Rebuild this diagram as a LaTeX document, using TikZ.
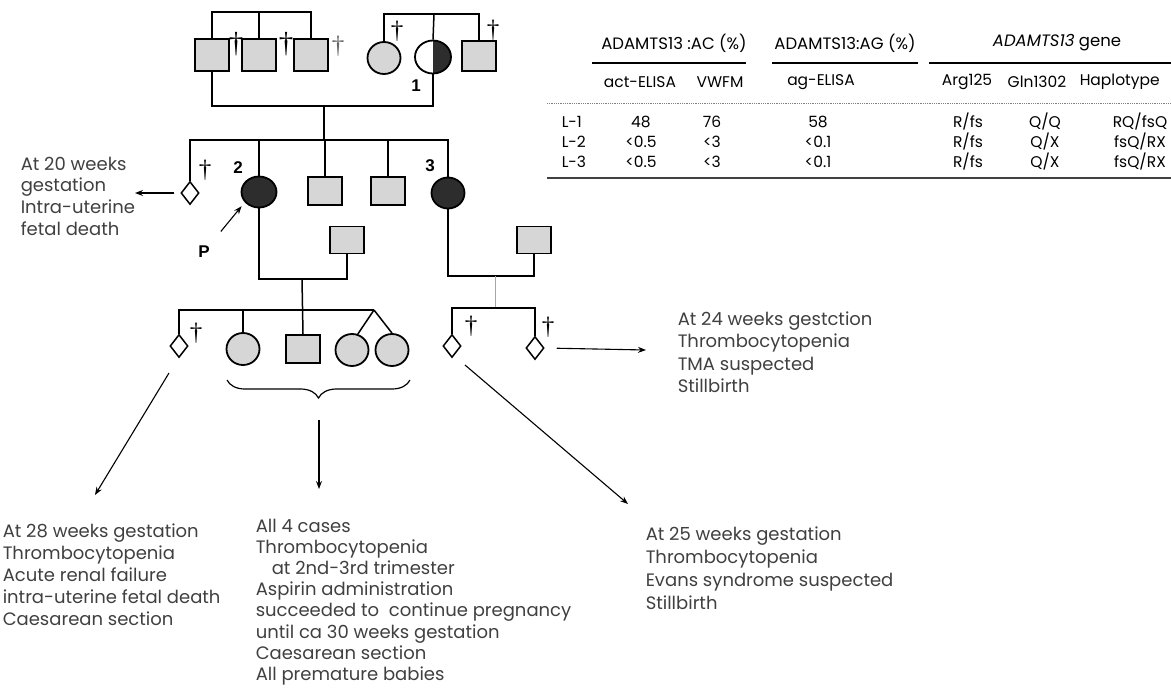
\documentclass[tikz,border=0pt]{standalone}
\usepackage{fontspec}
\setmainfont{Poppins}
\newfontfamily\lblfont{Liberation Sans}
\newfontfamily\dagfont{Liberation Serif}
\definecolor{pedgray}{RGB}{214,214,214}
\definecolor{peddark}{RGB}{45,45,45}
\usetikzlibrary{arrows.meta,shapes.geometric,decorations.pathreplacing}

\begin{document}
\begin{tikzpicture}[x=1pt,y=-1pt,line width=1.5pt,
  male/.style={draw,fill=pedgray,line width=1.8pt,minimum width=34pt,minimum height=28pt,inner sep=0pt},
  female/.style={draw,fill=pedgray,ellipse,line width=1.8pt,minimum width=33pt,minimum height=32pt,inner sep=0pt},
  affected/.style={female,fill=peddark},
  fetus/.style={draw,diamond,fill=white,line width=1.5pt,minimum width=18pt,minimum height=23pt,inner sep=0pt},
  dg/.style={inner sep=0pt,font=\dagfont\fontsize{29}{29}\selectfont},
  dgs/.style={inner sep=0pt,font=\dagfont\fontsize{25}{25}\selectfont},
  lbl/.style={inner sep=0pt,font=\lblfont\bfseries\fontsize{17}{17}\selectfont},
  note/.style={anchor=north west,align=left,inner sep=0pt,text=black!75,font=\fontsize{18}{22}\selectfont},
  cell/.style={inner sep=0pt,font=\fontsize{15.5}{15.5}\selectfont},
  head/.style={cell,font=\fontsize{16.5}{16.5}\selectfont},
  arr/.style={-{Stealth[length=8pt,width=6pt]},line width=1.1pt},
  rule/.style={line width=1.4pt}]
  \fill[white] (0,0) rectangle (1171,689);
  \useasboundingbox (0,0) rectangle (1171,689);

  %% generation I
  \node[male,minimum height=32pt] (g1a) at (212,55) {};
  \node[male,minimum height=32pt] (g1b) at (259,55) {};
  \node[male,minimum height=32pt] (g1c) at (311,55) {};
  \node[female] (g1d) at (384,58) {};
  \node[female,fill=white,minimum width=36pt,minimum height=33pt,
        path picture={\fill[peddark] (path picture bounding box.north)
          rectangle (path picture bounding box.south east);}] (g1e) at (433,57) {};
  \node[male,minimum height=30pt] (g1f) at (479,56) {};
  \coordinate (s1) at (259,12);
  \coordinate (s2) at (434,14);
  \coordinate (m1) at (324,106);
  \draw (g1a.north) |- (s1) -| (g1c.north);
  \draw (s1) -- (g1b.north);
  \draw (g1d.north) |- (s2) -| (g1f.north);
  \draw (s2) -- (g1e.north);
  \draw (g1a.south) |- (m1) -| (g1e.south);
  \node[dg] (d1) at (236,44) {†};
  \node[dg] (d2) at (286,44) {†};
  \node[dgs,text=black!60] (d3) at (338,46) {†};
  \node[dgs] (d4) at (397,31) {†};
  \node[dgs] (d5) at (493,30) {†};
  \node[lbl] (n1) at (416,86) {1};

  %% generation II
  \node[fetus] (g2a) at (190,193) {};
  \node[affected,minimum width=35pt,minimum height=31pt] (g2b) at (259,192) {};
  \node[male] (g2c) at (325,191) {};
  \node[male] (g2d) at (388,191) {};
  \node[affected,minimum height=31pt] (g2e) at (448,193) {};
  \node[male,minimum height=27pt] (sp2) at (347,240) {};
  \node[male,minimum height=27pt] (sp3) at (534,240) {};
  \coordinate (s3) at (324,140);
  \draw (m1) -- (s3);
  \draw (g2a.north) |- (s3) -| (g2e.north);
  \draw (g2b.north) -- (g2b.north |- s3);
  \draw (g2c.north) -- (g2c.north |- s3);
  \draw (g2d.north) -- (g2d.north |- s3);
  \node[dgs] (d6) at (205,170) {†};
  \node[lbl] (n2) at (238,168) {2};
  \node[lbl] (n3) at (430,166) {3};
  \node[lbl] (plbl) at (204,252) {P};
  \draw[arr,shorten <=18pt,shorten >=5pt] (plbl) -- (g2b.216);
  \coordinate (m2) at (302,279);
  \coordinate (m3) at (495,276);
  \draw (g2b.south) |- (m2) -| (sp2.south);
  \draw (g2e.south) |- (m3) -| (sp3.south);

  %% generation III
  \node[fetus] (g3a) at (179,346) {};
  \node[female] (g3b) at (243,349) {};
  \node[male] (g3c) at (303,349) {};
  \node[female] (g3d) at (352,350) {};
  \node[female] (g3e) at (392,350) {};
  \node[fetus] (g3f) at (452,346) {};
  \node[fetus] (g3g) at (535,348) {};
  \coordinate (tw) at (374,310);
  \coordinate (s5) at (495,308);
  \draw (g3a.north) |- (tw);
  \draw (m2) -- (g3c.north);
  \draw (g3b.north) -- (g3b.north |- tw);
  \draw (tw) -- (g3d.70);
  \draw (tw) -- (g3e.north);
  \draw[gray!70,line width=1pt] (m3) -- (s5);
  \draw (g3f.north) |- (s5) -| (g3g.north);
  \node[dgs] (d7) at (196,333) {†};
  \node[dgs] (d8) at (471,326) {†};
  \node[dgs] (d9) at (548,327) {†};
  \draw[line width=1.2pt,decorate,decoration={brace,mirror,amplitude=18pt}]
    (227,380) -- (410,380);

  %% outcome notes
  \node[note,font=\fontsize{18}{21.7}\selectfont] (t20) at (20,156)
    {At 20 weeks\\gestation\\Intra-uterine\\fetal death};
  \node[note] (t28) at (2,523)
    {At 28 weeks gestation\\Thrombocytopenia\\Acute renal failure\\
     intra-uterine fetal death\\Caesarean section};
  \node[note,font=\fontsize{18}{21.2}\selectfont] (tall) at (255,518)
    {All 4 cases\\Thrombocytopenia\\\hspace*{16pt}at 2nd-3rd trimester\\
     Aspirin administration\\succeeded to\ \ continue pregnancy\\
     until ca 30 weeks gestation\\Caesarean section\\All premature babies};
  \node[note,font=\fontsize{18}{23}\selectfont] (t25) at (645,526)
    {At 25 weeks gestation\\Thrombocytopenia\\Evans syndrome suspected\\Stillbirth};
  \node[note,font=\fontsize{18}{22.3}\selectfont] (t24) at (677,311)
    {At 24 weeks gestction\\Thrombocytopenia\\TMA suspected\\Stillbirth};
  \coordinate (a1) at (135,193);
  \coordinate (a2) at (169,373);
  \coordinate (a3) at (95,495);
  \coordinate (a4) at (319,420);
  \coordinate (a5) at (319,489);
  \coordinate (a6) at (465,365);
  \coordinate (a7) at (628,504);
  \coordinate (a8) at (646,350);
  \draw[arr,shorten <=6pt] (g2a.west) -- (a1);
  \draw[arr] (a2) -- (a3);
  \draw[arr] (a4) -- (a5);
  \draw[arr] (a6) -- (a7);
  \draw[arr,shorten <=12pt] (g3g.east) -- (a8);

  %% table
  \node[head] (hac) at (674,43) {ADAMTS13 :AC (\%)};
  \node[head] (hag) at (845,43) {ADAMTS13:AG (\%)};
  \node[head] (hgn) at (1057,43) {\textit{ADAMTS13} gene};
  \draw[rule] (592,63) -- (746,63);
  \draw[rule] (772,63) -- (918,63);
  \draw[rule] (929,63) -- (1171,63);
  \node[cell] (cact) at (640,82) {act-ELISA};
  \node[cell] (cvwf) at (720,82) {VWFM};
  \node[cell] (cag) at (821,82) {ag-ELISA};
  \node[cell] (carg) at (967,82) {Arg125};
  \node[cell] (cgln) at (1037,82) {Gln1302};
  \node[cell,anchor=west] (chap) at (1079,82) {Haplotype};
  \draw[gray,densely dotted,line width=0.8pt] (547,103) -- (1171,103);
  \node[cell,anchor=west] (r1) at (561,122) {L-1};
  \node[cell] at (641,122) {48};   \node[cell] at (712,122) {76};
  \node[cell] at (818,122) {58};   \node[cell] at (968,122) {R/fs};
  \node[cell] at (1045,122) {Q/Q}; \node[cell] at (1140,122) {RQ/fsQ};
  \node[cell,anchor=west] (r2) at (561,142) {L-2};
  \node[cell] at (641,142) {<0.5}; \node[cell] at (712,142) {<3};
  \node[cell] at (818,142) {<0.1}; \node[cell] at (968,142) {R/fs};
  \node[cell] at (1045,142) {Q/X}; \node[cell] at (1140,142) {fsQ/RX};
  \node[cell,anchor=west] (r3) at (561,162) {L-3};
  \node[cell] at (641,162) {<0.5}; \node[cell] at (712,162) {<3};
  \node[cell] at (818,162) {<0.1}; \node[cell] at (968,162) {R/fs};
  \node[cell] at (1045,162) {Q/X}; \node[cell] at (1140,162) {fsQ/RX};
  \draw[line width=2pt,black!75] (547,178) -- (1171,178);
\end{tikzpicture}
\end{document}
